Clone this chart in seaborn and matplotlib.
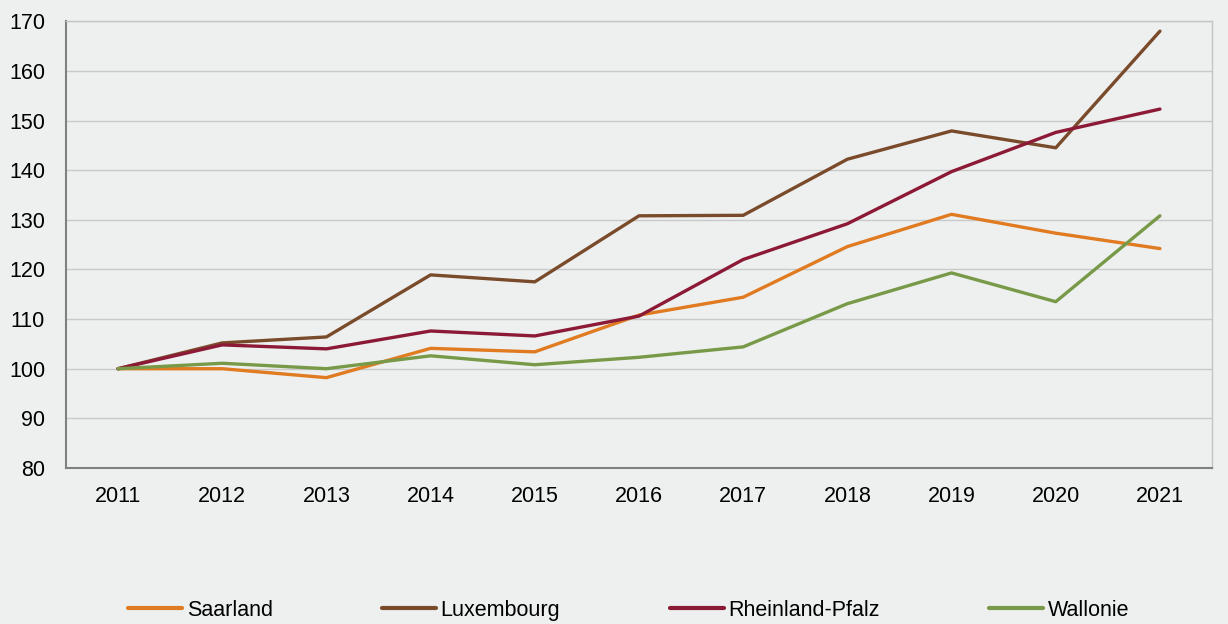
import pandas as pd
import numpy as np
import matplotlib.pyplot as plt
import seaborn as sns

# index values 2011 = 100
years = [2011, 2012, 2013, 2014, 2015, 2016, 2017, 2018, 2019, 2020, 2021]
saarland = [100, 100.0, 98.2, 104.1, 103.4, 110.8, 114.4, 124.6, 131.1, 127.3, 124.2]
luxembourg = [100, 105.2, 106.4, 118.9, 117.5, 130.8, 130.9, 142.2, 147.9, 144.5, 168.0]
rheinland_pfalz = [100, 104.8, 104.0, 107.6, 106.6, 110.6, 122.0, 129.2, 139.7, 147.6, 152.3]
wallonie = [100, 101.1, 100.0, 102.6, 100.8, 102.3, 104.4, 113.1, 119.3, 113.5, 130.8]

regions = ["Saarland", "Luxembourg", "Rheinland-Pfalz", "Wallonie"]
colors = ["#E07B22", "#7A4B2B", "#8C1A36", "#789A48"]

# long format for seaborn
df = pd.DataFrame({
    "idx": list(range(len(years))) * 4,
    "value": saarland + luxembourg + rheinland_pfalz + wallonie,
    "region": [r for r in regions for _ in years],
})

bg = "#EEF0EF"
sns.set_style("white")
plt.rcParams["font.family"] = ["Liberation Sans", "DejaVu Sans"]
plt.rcParams["text.color"] = "black"
plt.rcParams["xtick.color"] = "black"
plt.rcParams["ytick.color"] = "black"

fig = plt.figure(figsize=(12.28, 6.24), dpi=100, facecolor=bg)
ax = fig.add_axes([0.0537, 0.25, 0.9333, 0.716])
ax.set_facecolor(bg)

sns.lineplot(data=df, x="idx", y="value", hue="region", hue_order=regions,
             palette=colors, linewidth=2.4, ax=ax, legend=False)

ax.set_xlim(-0.5, 10.5)
ax.set_ylim(80, 170)
ax.set_yticks(np.arange(80, 171, 10))
ax.yaxis.grid(True, color="#C9C9C9", linewidth=1)
ax.set_axisbelow(True)

# category labels without ticks, tick marks between categories
ax.set_xticks(range(len(years)))
ax.set_xticklabels([str(y) for y in years])
ax.set_xticks(np.arange(-0.5, 10.6, 1), minor=True)
ax.tick_params(axis="x", which="major", length=0, labelsize=15.5, pad=13,
               labelcolor="black")
ax.tick_params(axis="x", which="minor", length=6, color="#808080", width=1.2)
ax.tick_params(axis="y", length=6, color="#808080", width=1.2, labelsize=15.5,
               pad=9, labelcolor="black")
ax.set_xlabel("")
ax.set_ylabel("")

for side in ["left", "bottom"]:
    ax.spines[side].set_color("#808080")
    ax.spines[side].set_linewidth(1.5)
for side in ["top", "right"]:
    ax.spines[side].set_color("#C4C4C4")
    ax.spines[side].set_linewidth(1)

handles = [plt.Line2D([], [], color=c, linewidth=3) for c in colors]
leg = fig.legend(handles, regions, loc="center", bbox_to_anchor=(0.512, 0.022),
                 ncol=4, frameon=False, fontsize=15.5, handlelength=2.5,
                 handletextpad=0.2, columnspacing=5.1)
for t in leg.get_texts():
    t.set_color("black")

fig.savefig("out.png", dpi=100, facecolor=bg)
